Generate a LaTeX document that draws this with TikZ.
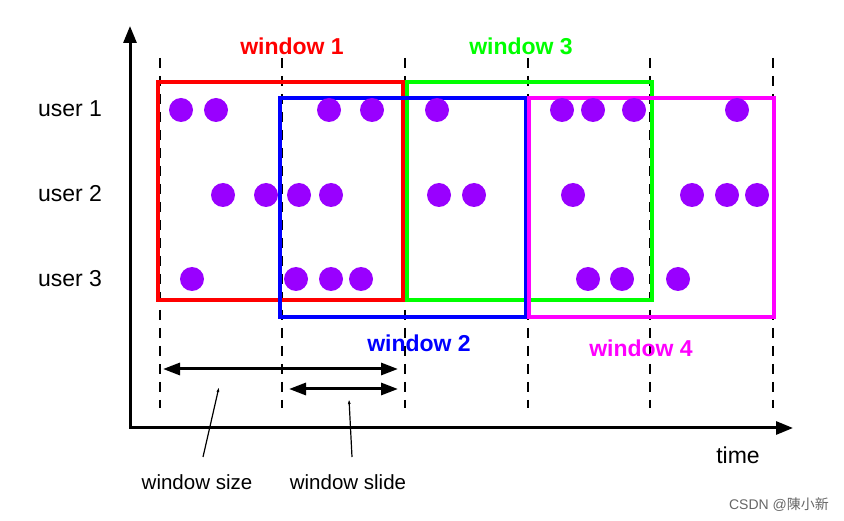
\documentclass[tikz,border=0pt]{standalone}
\usepackage{fontspec}
\setmainfont{Liberation Sans}
\newfontfamily\cjkfont{Noto Sans CJK SC}
\usetikzlibrary{arrows.meta}
\definecolor{evpurple}{RGB}{153,0,255}
\definecolor{wgreen}{RGB}{0,255,0}
\definecolor{wmagenta}{RGB}{255,0,255}

\begin{document}
\begin{tikzpicture}[x=1pt,y=-1pt,
  ev/.style={circle,fill=evpurple,inner sep=0pt,minimum size=24pt},
  usr/.style={font=\fontsize{23}{27}\selectfont},
  wlabel/.style={font=\fontsize{23}{27}\selectfont\bfseries},
  wbox/.style={line width=4pt},
  slot/.style={line width=2pt,dash pattern=on 10pt off 8pt},
  span/.style={{Triangle[length=17pt,width=12pt]}-{Triangle[length=17pt,width=12pt]},line width=3pt},
  pointer/.style={-{Latex[length=5pt,width=3pt]},line width=1.2pt},
  axis/.style={{Triangle[length=17pt,width=13pt]}-{Triangle[length=17pt,width=13pt]},line width=3pt}
]
  \useasboundingbox (0,0) rectangle (844,521);

  % axes
  \coordinate (ytop) at (130,26);
  \coordinate (origin) at (130,428);
  \coordinate (xend) at (793,428);
  \draw[axis] (ytop) -- (origin) -- (xend);
  \node (time) at (738,455) [usr] {time};

  % window borders in time
  \draw[slot] (160,58) -- (160,408);
  \draw[slot] (282,58) -- (282,408);
  \draw[slot] (405,58) -- (405,408);
  \draw[slot] (528,58) -- (528,408);
  \draw[slot] (650,58) -- (650,408);
  \draw[slot] (773,58) -- (773,408);

  % windows
  \draw[wbox,red] (158,82) rectangle (403,300);
  \draw[wbox,wgreen] (407,82) rectangle (652,300);
  \draw[wbox,blue] (280,98) rectangle (526,317);
  \draw[wbox,wmagenta] (529,98) rectangle (774,317);

  \node (w1) at (292,46) [wlabel,red] {window 1};
  \node (w3) at (521,46) [wlabel,wgreen] {window 3};
  \node (w2) at (419,343) [wlabel,blue] {window 2};
  \node (w4) at (641,348) [wlabel,wmagenta] {window 4};

  % users
  \node (u1) at (70,109) [usr] {user 1};
  \node (u2) at (70,194) [usr] {user 2};
  \node (u3) at (70,279) [usr] {user 3};

  % events
  \path
    (181,110) node[ev] (e1a) {}
    (216,110) node[ev] (e1b) {}
    (329,110) node[ev] (e1c) {}
    (372,110) node[ev] (e1d) {}
    (437,110) node[ev] (e1e) {}
    (562,110) node[ev] (e1f) {}
    (593,110) node[ev] (e1g) {}
    (634,110) node[ev] (e1h) {}
    (737,110) node[ev] (e1i) {}

    (223,195) node[ev] (e2a) {}
    (266,195) node[ev] (e2b) {}
    (299,195) node[ev] (e2c) {}
    (331,195) node[ev] (e2d) {}
    (439,195) node[ev] (e2e) {}
    (474,195) node[ev] (e2f) {}
    (573,195) node[ev] (e2g) {}
    (692,195) node[ev] (e2h) {}
    (727,195) node[ev] (e2i) {}
    (757,195) node[ev] (e2j) {}

    (192,279) node[ev] (e3a) {}
    (296,279) node[ev] (e3b) {}
    (331,279) node[ev] (e3c) {}
    (361,279) node[ev] (e3d) {}
    (588,279) node[ev] (e3e) {}
    (622,279) node[ev] (e3f) {}
    (678,279) node[ev] (e3g) {};

  % size and slide
  \coordinate (szl) at (163,369);
  \coordinate (szr) at (398,369);
  \coordinate (sll) at (289,389);
  \coordinate (slr) at (398,389);
  \draw[span] (szl) -- (szr);
  \draw[span] (sll) -- (slr);

  \node (lsize) at (197,482) [font=\fontsize{20.5}{24}\selectfont] {window size};
  \node (lslide) at (348,482) [font=\fontsize{20.5}{24}\selectfont] {window slide};
  \coordinate (psz0) at (203,457);
  \coordinate (psz1) at (219,387);
  \coordinate (psl0) at (352,457);
  \coordinate (psl1) at (349,399);
  \draw[pointer] (psz0) -- (psz1);
  \draw[pointer] (psl0) -- (psl1);

  \node (mark) at (779,505) [text=black!60,font=\fontsize{14}{16}\selectfont] {CSDN @{\cjkfont 陳小新}};
\end{tikzpicture}
\end{document}
